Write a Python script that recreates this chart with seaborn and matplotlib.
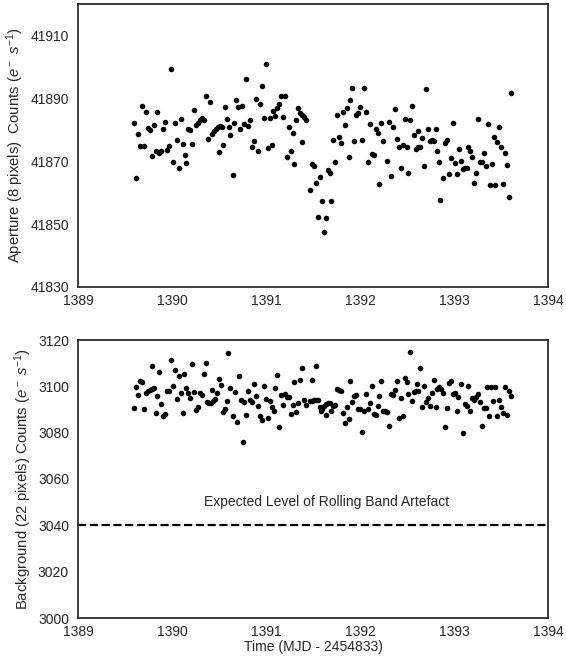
import matplotlib
matplotlib.use("Agg")
import matplotlib.pyplot as plt
import seaborn as sns
import pandas as pd

# ---------------- data ----------------
ap_time = [
    1389.599, 1389.620, 1389.638, 1389.660, 1389.681, 1389.702, 1389.723, 1389.745, 1389.766, 1389.787,
    1389.805, 1389.830, 1389.844, 1389.865, 1389.886, 1389.907, 1389.929, 1389.947, 1389.968, 1389.989,
    1390.011, 1390.032, 1390.050, 1390.071, 1390.093, 1390.114, 1390.135, 1390.152, 1390.173, 1390.195,
    1390.216, 1390.237, 1390.255, 1390.277, 1390.298, 1390.319, 1390.340, 1390.359, 1390.380, 1390.401,
    1390.422, 1390.444, 1390.465, 1390.486, 1390.503, 1390.507, 1390.529, 1390.546, 1390.564, 1390.582,
    1390.603, 1390.617,
    1390.646, 1390.663, 1390.684, 1390.705, 1390.727, 1390.748, 1390.766, 1390.790, 1390.809, 1390.833,
    1390.854, 1390.872, 1390.894, 1390.915, 1390.936, 1390.957, 1390.976, 1390.997, 1391.018, 1391.039,
    1391.061, 1391.078, 1391.099, 1391.117, 1391.141, 1391.163, 1391.181, 1391.202, 1391.220, 1391.241,
    1391.263, 1391.284, 1391.301, 1391.322, 1391.344, 1391.365, 1391.383, 1391.386, 1391.404, 1391.429,
    1391.468, 1391.489, 1391.511, 1391.532, 1391.550, 1391.574, 1391.592, 1391.614, 1391.635, 1391.656,
    1391.678, 1391.691, 1391.713, 1391.734,
    1391.759, 1391.777, 1391.798, 1391.816, 1391.837, 1391.859, 1391.880, 1391.897, 1391.918, 1391.940,
    1391.961, 1391.982, 1392.000, 1392.021, 1392.043, 1392.064, 1392.085, 1392.106, 1392.124, 1392.146,
    1392.167, 1392.188, 1392.205, 1392.227, 1392.248, 1392.290, 1392.309, 1392.330, 1392.351, 1392.372,
    1392.394, 1392.411, 1392.433, 1392.454, 1392.475, 1392.497, 1392.514, 1392.535, 1392.556, 1392.578,
    1392.599, 1392.617, 1392.620, 1392.641, 1392.663, 1392.681, 1392.702, 1392.720, 1392.741, 1392.763,
    1392.784, 1392.805, 1392.819, 1392.837, 1392.851,
    1392.886, 1392.907, 1392.926, 1392.947, 1392.968, 1392.989, 1393.011, 1393.029, 1393.050, 1393.071,
    1393.093, 1393.114, 1393.135, 1393.152, 1393.173, 1393.195, 1393.216, 1393.234, 1393.255, 1393.277,
    1393.298, 1393.319, 1393.337, 1393.358, 1393.380, 1393.401, 1393.422, 1393.439, 1393.461, 1393.482,
    1393.503, 1393.524, 1393.543, 1393.564, 1393.585, 1393.606,
]
ap_counts = [
    41882.1, 41864.7, 41878.7, 41874.7, 41887.7, 41874.7, 41885.7, 41880.7, 41880.0, 41871.6,
    41881.4, 41873.1, 41885.6, 41872.5, 41873.3, 41880.4, 41882.6, 41873.7, 41874.8, 41899.3,
    41869.9, 41882.0, 41876.9, 41867.9, 41883.5, 41875.5, 41872.1, 41869.4, 41880.3, 41879.8,
    41875.5, 41886.3, 41881.4, 41882.2, 41883.1, 41883.6, 41883.1, 41890.7, 41877.0, 41888.8,
    41878.7, 41879.7, 41880.3, 41881.0, 41872.9, 41881.3, 41881.0, 41875.1, 41887.1, 41883.5,
    41881.0, 41878.4,
    41865.6, 41882.3, 41889.6, 41887.3, 41880.4, 41887.7, 41881.7, 41896.1, 41881.3, 41883.1,
    41874.4, 41876.5, 41889.9, 41873.2, 41888.3, 41893.8, 41883.9, 41900.8, 41874.3, 41883.8,
    41875.3, 41886.1, 41884.4, 41886.8, 41888.2, 41890.6, 41884.1, 41890.8, 41871.2, 41881.0,
    41873.3, 41879.1, 41869.1, 41883.1, 41886.8, 41885.3, 41876.1, 41884.6, 41884.0, 41883.1,
    41860.9, 41869.1, 41868.6, 41863.2, 41852.2, 41864.9, 41857.5, 41847.4, 41852.0, 41867.2,
    41866.2, 41857.3, 41876.7, 41869.8,
    41884.8, 41877.8, 41875.9, 41885.8, 41881.4, 41887.0, 41871.4, 41889.6, 41893.3, 41876.5,
    41884.8, 41885.3, 41887.2, 41876.6, 41893.3, 41885.7, 41869.9, 41881.7, 41872.3, 41872.0,
    41880.3, 41879.1, 41862.8, 41882.2, 41876.3, 41870.1, 41882.5, 41865.3, 41881.0, 41886.5,
    41877.0, 41874.6, 41867.9, 41875.2, 41883.4, 41874.6, 41866.2, 41883.2, 41887.7, 41878.3,
    41874.0, 41879.6, 41874.4, 41874.5, 41877.5, 41868.4, 41893.0, 41880.4, 41876.5, 41876.7,
    41876.5, 41880.2, 41873.4, 41869.9, 41857.7,
    41864.7, 41875.9, 41876.8, 41865.9, 41871.0, 41882.0, 41869.3, 41866.0, 41874.0, 41870.2,
    41867.4, 41867.8, 41868.0, 41874.6, 41873.3, 41871.5, 41863.2, 41866.2, 41883.4, 41869.7,
    41869.7, 41872.6, 41868.4, 41881.7, 41862.3, 41869.2, 41877.7, 41862.3, 41876.1, 41881.0,
    41874.6, 41862.8, 41872.5, 41868.9, 41858.6, 41891.8,
]

bg_time = [
    1389.599, 1389.620, 1389.638, 1389.656, 1389.681, 1389.702, 1389.723, 1389.745, 1389.766, 1389.784,
    1389.787, 1389.809, 1389.827, 1389.844, 1389.865, 1389.886, 1389.904, 1389.926, 1389.947, 1389.968,
    1389.989, 1390.011, 1390.029, 1390.050, 1390.071, 1390.093, 1390.114, 1390.131, 1390.152, 1390.173,
    1390.195, 1390.216, 1390.237, 1390.255, 1390.277, 1390.298, 1390.319, 1390.337, 1390.359, 1390.376,
    1390.397, 1390.418, 1390.426, 1390.439, 1390.461, 1390.482, 1390.503, 1390.524, 1390.546, 1390.564,
    1390.582, 1390.599, 1390.617,
    1390.646, 1390.667, 1390.688, 1390.710, 1390.731, 1390.752, 1390.769, 1390.790, 1390.812, 1390.833,
    1390.854, 1390.872, 1390.894, 1390.915, 1390.936, 1390.957, 1390.976, 1390.997, 1391.018, 1391.039,
    1391.061, 1391.082, 1391.099, 1391.120, 1391.141, 1391.163, 1391.184, 1391.205, 1391.227, 1391.248,
    1391.269, 1391.284, 1391.301, 1391.322, 1391.344, 1391.365, 1391.383, 1391.404, 1391.426, 1391.468,
    1391.486, 1391.489, 1391.511, 1391.529, 1391.532, 1391.553, 1391.574, 1391.588, 1391.596, 1391.617,
    1391.635, 1391.638, 1391.660, 1391.681, 1391.691, 1391.713,
    1391.734, 1391.758, 1391.780, 1391.798, 1391.816, 1391.837, 1391.859, 1391.880, 1391.897, 1391.918,
    1391.936, 1391.957, 1391.979, 1392.000, 1392.021, 1392.043, 1392.064, 1392.085, 1392.103, 1392.124,
    1392.146, 1392.167, 1392.188, 1392.205, 1392.227, 1392.248, 1392.269, 1392.290, 1392.309, 1392.330,
    1392.351, 1392.372, 1392.394, 1392.412, 1392.433, 1392.454, 1392.475, 1392.497, 1392.514, 1392.535,
    1392.556, 1392.578, 1392.599, 1392.605, 1392.620, 1392.638, 1392.660, 1392.681, 1392.702, 1392.723,
    1392.741, 1392.763, 1392.784, 1392.805, 1392.822, 1392.844,
    1392.858, 1392.880, 1392.907, 1392.926, 1392.943, 1392.965, 1392.992, 1393.014, 1393.029, 1393.046,
    1393.071, 1393.092, 1393.114, 1393.135, 1393.152, 1393.173, 1393.195, 1393.216, 1393.237, 1393.258,
    1393.280, 1393.298, 1393.319, 1393.340, 1393.354, 1393.376, 1393.397, 1393.418, 1393.439, 1393.457,
    1393.482, 1393.503, 1393.521, 1393.539, 1393.561, 1393.585, 1393.606,
]
bg_counts = [
    3090.5, 3099.7, 3096.1, 3102.4, 3101.9, 3090.2, 3097.2, 3097.8, 3098.4, 3108.6,
    3098.8, 3099.1, 3088.6, 3095.9, 3106.0, 3092.2, 3087.2, 3088.0, 3098.1, 3098.0,
    3111.3, 3100.3, 3107.0, 3094.6, 3104.3, 3097.2, 3088.6, 3105.4, 3099.1, 3097.2,
    3095.1, 3109.5, 3097.4, 3089.8, 3091.2, 3097.2, 3096.2, 3105.3, 3109.9, 3093.4,
    3092.7, 3092.8, 3098.5, 3093.7, 3094.4, 3097.2, 3103.0, 3100.7, 3089.0, 3090.1,
    3093.5, 3114.2, 3099.1,
    3087.2, 3097.4, 3084.6, 3104.4, 3094.2, 3076.1, 3093.2, 3087.6, 3097.8, 3094.2,
    3093.1, 3100.9, 3095.9, 3091.5, 3087.3, 3085.3, 3100.0, 3094.6, 3086.4, 3093.5,
    3091.2, 3089.5, 3099.4, 3105.0, 3082.3, 3096.1, 3092.1, 3096.7, 3095.5, 3095.3,
    3088.0, 3092.1, 3101.9, 3088.9, 3092.9, 3102.6, 3108.0, 3094.2, 3092.1, 3093.5,
    3102.6, 3093.8, 3094.0, 3108.8, 3094.1, 3094.0, 3091.1, 3089.5, 3090.2, 3091.5,
    3087.7, 3092.2, 3092.9, 3092.7, 3089.2, 3091.5,
    3092.1, 3099.0, 3098.4, 3098.1, 3088.3, 3084.0, 3091.1, 3085.9, 3102.2, 3093.2,
    3095.9, 3096.1, 3090.1, 3090.3, 3080.4, 3089.5, 3096.7, 3090.3, 3092.8, 3100.1,
    3088.2, 3087.5, 3091.5, 3095.7, 3102.2, 3089.5, 3089.2, 3088.8, 3083.0, 3096.5,
    3096.1, 3098.4, 3102.3, 3086.3, 3094.8, 3087.3, 3103.7, 3101.9, 3096.5, 3114.7,
    3093.8, 3097.4, 3097.8, 3100.9, 3098.1, 3107.9, 3091.2, 3100.0, 3093.1, 3095.1,
    3091.4, 3097.2, 3102.9, 3091.2, 3099.0, 3099.8,
    3098.7, 3097.2, 3082.6, 3090.5, 3101.4, 3102.4, 3096.7, 3097.2, 3089.3, 3095.4,
    3101.1, 3079.8, 3092.2, 3091.6, 3100.3, 3089.2, 3094.8, 3094.2, 3095.5, 3096.5,
    3093.1, 3083.0, 3090.6, 3090.5, 3099.8, 3087.2, 3099.7, 3093.5, 3099.6, 3087.2,
    3094.0, 3091.2, 3088.6, 3099.7, 3087.7, 3098.0, 3095.8,
]

rolling_band_level = 3040
annotation_text = "Expected Level of Rolling Band Artefact"
top_ylabel = "Aperture (8 pixels)  Counts ($e^-$ $s^{-1}$)"
bottom_ylabel = "Background (22 pixels) Counts ($e^-$ $s^{-1}$)"
xlabel = "Time (MJD - 2454833)"
x_ticks = [1389, 1390, 1391, 1392, 1393, 1394]
top_yticks = [41830, 41850, 41870, 41890, 41910]
bottom_yticks = [3000, 3020, 3040, 3060, 3080, 3100, 3120]

# ---------------- style ----------------
sns.set_style("white")
plt.rcParams["font.family"] = ["Liberation Sans", "DejaVu Sans"]
plt.rcParams["mathtext.fontset"] = "custom"
plt.rcParams["mathtext.rm"] = "Liberation Sans"
plt.rcParams["mathtext.it"] = "Liberation Sans:italic"
plt.rcParams["font.size"] = 10

fig = plt.figure(figsize=(5.66, 6.57), dpi=100)
ax1 = fig.add_axes([78 / 566, 1 - 287 / 657, 470 / 566, 283 / 657])
ax2 = fig.add_axes([78 / 566, 1 - 618 / 657, 470 / 566, 278 / 657])

df_ap = pd.DataFrame({"time": ap_time, "counts": ap_counts})
df_bg = pd.DataFrame({"time": bg_time, "counts": bg_counts})

sns.scatterplot(data=df_ap, x="time", y="counts", ax=ax1, color="black",
                s=16, linewidth=0)
sns.scatterplot(data=df_bg, x="time", y="counts", ax=ax2, color="black",
                s=16, linewidth=0)

ax2.axhline(rolling_band_level, color="black", linestyle="--", linewidth=1.6)
ax2.text(1391.64, 3050, annotation_text, ha="center", va="center",
         fontsize=10, color=".15")

for ax in (ax1, ax2):
    ax.set_xlim(1389, 1394)
    ax.set_xticks(x_ticks)
    ax.tick_params(axis="y", labelsize=10, pad=3, colors=".15")
    ax.tick_params(axis="x", labelsize=10, pad=1.5, colors=".15")
    for sp in ax.spines.values():
        sp.set_color(".15")
        sp.set_linewidth(1.25)

ax1.set_ylim(41830, 41920)
ax1.set_yticks(top_yticks)
ax1.set_xlabel("")
ax1.set_ylabel(top_ylabel, fontsize=10.7, color=".15", labelpad=3)

ax2.set_ylim(3000, 3120)
ax2.set_yticks(bottom_yticks)
ax2.set_xlabel(xlabel, fontsize=10, color=".15", labelpad=0.5)
ax2.set_ylabel(bottom_ylabel, fontsize=10.7, color=".15", labelpad=3)

fig.savefig("out.png", dpi=100)
